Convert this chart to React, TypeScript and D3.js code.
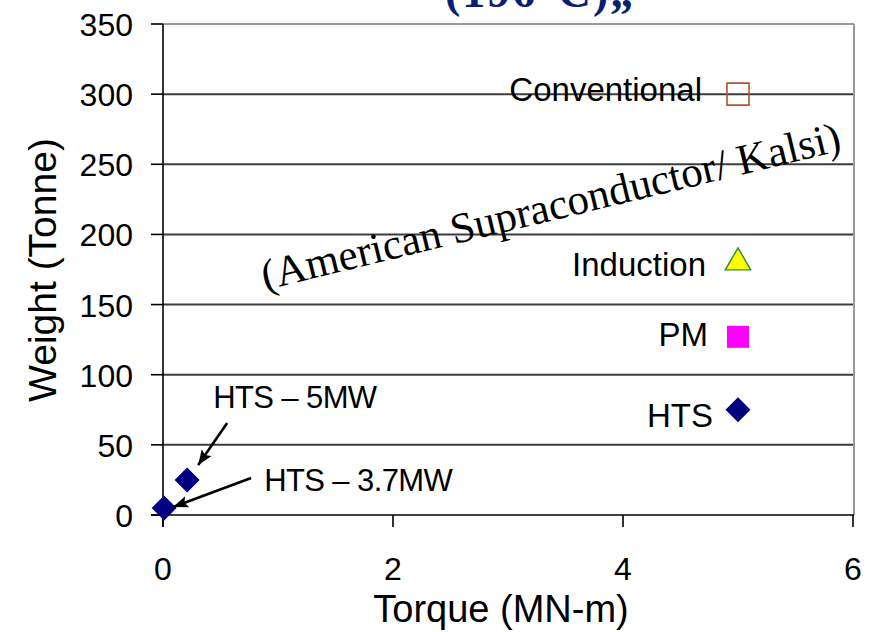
import React from 'react';
import * as d3 from 'd3';

const W = 872;
const H = 632;

// ---- data ----
const torqueTicks = [0, 2, 4, 6];
const weightTicks = [0, 50, 100, 150, 200, 250, 300, 350];

const machineTypes = ['Conventional', 'Induction', 'PM', 'HTS'];
const machineTorque = [5, 5, 5, 5];
const machineWeight = [300, 180, 127, 75];

const htsDesigns = ['HTS – 5MW', 'HTS – 3.7MW'];
const htsTorque = [0.21, 0.01];
const htsWeight = [25, 5];

const sourceNote = '(American Supraconductor/ Kalsi)';
const headerFragment = '(196°C)„';
const xTitle = 'Torque (MN-m)';
const yTitle = 'Weight (Tonne)';

// ---- styling / layout (not data) ----
const SANS = "'Liberation Sans', Arial, sans-serif";
const SERIF = "'Liberation Serif', 'Times New Roman', serif";

const markerStyle: Record<string, { shape: string; fill: string; stroke: string; sw: number }> = {
  Conventional: { shape: 'square', fill: 'none', stroke: '#b5532a', sw: 1.6 },
  Induction: { shape: 'triangle', fill: '#ffff00', stroke: '#2e8b2e', sw: 1.4 },
  PM: { shape: 'square', fill: '#ff00ff', stroke: '#ff00ff', sw: 0 },
  HTS: { shape: 'diamond', fill: '#000080', stroke: '#000080', sw: 0 },
};
const labelOffset: Record<string, [number, number]> = {
  Conventional: [-36, 7],
  Induction: [-32, 14],
  PM: [-30, 9],
  HTS: [-25, 17],
};
const annotLayout = [
  { text: [26, -72], from: [40, -57], to: [11, -15] },
  { text: [100, -17], from: [87, -30], to: [9, -1] },
];

function shapePath(shape: string): string {
  if (shape === 'square') return d3.symbol(d3.symbolSquare, 22 * 22)() as string;
  if (shape === 'triangle') return d3.symbol(d3.symbolTriangle, 280)() as string;
  const r = 12.5;
  return `M0,${-r}L${r},0L0,${r}L${-r},0Z`;
}

export default function App() {
  const x = d3.scaleLinear().domain([0, 6]).range([163, 853]);
  const y = d3.scaleLinear().domain([0, 350]).range([515, 24]);
  const [x0, x1] = x.range();
  const [y0, y1] = y.range();

  const machines = machineTypes.map((t, i) => ({ t, tq: machineTorque[i], w: machineWeight[i] }));
  const hts = htsDesigns.map((t, i) => ({ t, tq: htsTorque[i], w: htsWeight[i] }));

  const noteAngle = -13.6;

  return (
    <svg
      width={W}
      height={H}
      style={{ position: 'absolute', left: 0, top: 0, background: '#fff' }}
    >
      <defs>
        <marker
          id="arrowhead"
          markerUnits="userSpaceOnUse"
          markerWidth={16}
          markerHeight={14}
          refX={15}
          refY={6}
          orient="auto"
        >
          <path d="M0,0 L15,6 L0,12 L3,6 Z" fill="#000" />
        </marker>
      </defs>
      <rect x={0} y={0} width={W} height={H} fill="#fff" />

      {/* header fragment clipped at top */}
      <text
        x={445}
        y={7}
        fontFamily={SERIF}
        fontWeight="bold"
        fontSize={46}
        fill="#0b1f72"
        letterSpacing={2}
      >
        {headerFragment}
      </text>

      {/* gridlines */}
      {weightTicks
        .filter((v) => v > 0 && v < 350)
        .map((v) => (
          <line key={'g' + v} x1={x0} x2={x1} y1={y(v)} y2={y(v)} stroke="#3c3c3c" strokeWidth={2} />
        ))}
      {/* plot border (top + right) */}
      <line x1={x0} x2={x1 + 1} y1={y1} y2={y1} stroke="#9a9a9a" strokeWidth={2} />
      <line x1={x1 + 1} x2={x1 + 1} y1={y1} y2={y0} stroke="#9a9a9a" strokeWidth={2} />

      {/* y axis */}
      <line x1={x0} x2={x0} y1={y1} y2={y0 + 12} stroke="#000" strokeWidth={1.6} />
      {weightTicks.map((v) => (
        <g key={'yt' + v}>
          <line x1={x0 - 12} x2={x0} y1={y(v)} y2={y(v)} stroke="#000" strokeWidth={1.6} />
          <text
            x={133}
            y={y(v) + 12}
            textAnchor="end"
            fontFamily={SANS}
            fontSize={32}
            fill="#000"
          >
            {v}
          </text>
        </g>
      ))}
      {/* x axis */}
      <line x1={x0 - 12} x2={x1 + 1} y1={y0} y2={y0} stroke="#000" strokeWidth={1.6} />
      {torqueTicks.map((v) => (
        <g key={'xt' + v}>
          <line x1={x(v)} x2={x(v)} y1={y0} y2={y0 + 12} stroke="#000" strokeWidth={1.6} />
          <text
            x={x(v)}
            y={580}
            textAnchor="middle"
            fontFamily={SANS}
            fontSize={32}
            fill="#000"
          >
            {v}
          </text>
        </g>
      ))}

      {/* axis titles */}
      <text x={501} y={622} textAnchor="middle" fontFamily={SANS} fontSize={38} fill="#000">
        {xTitle}
      </text>
      <text
        transform={`translate(56,270) rotate(-90)`}
        textAnchor="middle"
        fontFamily={SANS}
        fontSize={39}
        fill="#000"
      >
        {yTitle}
      </text>

      {/* rotated source note */}
      <text
        transform={`translate(265,290) rotate(${noteAngle})`}
        fontFamily={SERIF}
        fontSize={43}
        fill="#000"
      >
        {sourceNote}
      </text>

      {/* machine markers + labels */}
      {machines.map((m) => {
        const st = markerStyle[m.t];
        const [dx, dy] = labelOffset[m.t];
        return (
          <g key={m.t}>
            <text
              x={x(m.tq) + dx}
              y={y(m.w) + dy}
              textAnchor="end"
              fontFamily={SANS}
              fontSize={33}
              fill="#000"
            >
              {m.t}
            </text>
            <path
              transform={`translate(${x(m.tq)},${y(m.w)})`}
              d={shapePath(st.shape)}
              fill={st.fill}
              stroke={st.sw > 0 ? st.stroke : 'none'}
              strokeWidth={st.sw}
            />
          </g>
        );
      })}

      {/* HTS designs */}
      {hts.map((h, i) => {
        const px = x(h.tq);
        const py = y(h.w);
        const a = annotLayout[i];
        return (
          <g key={h.t}>
            <path transform={`translate(${px},${py})`} d={shapePath('diamond')} fill="#000080" />
            <line
              x1={px + a.from[0]}
              y1={py + a.from[1]}
              x2={px + a.to[0]}
              y2={py + a.to[1]}
              stroke="#000"
              strokeWidth={2.6}
              markerEnd="url(#arrowhead)"
            />
            <text
              x={px + a.text[0]}
              y={py + a.text[1]}
              fontFamily={SANS}
              fontSize={31}
              letterSpacing={-0.6}
              fill="#000"
            >
              {h.t}
            </text>
          </g>
        );
      })}
    </svg>
  );
}
